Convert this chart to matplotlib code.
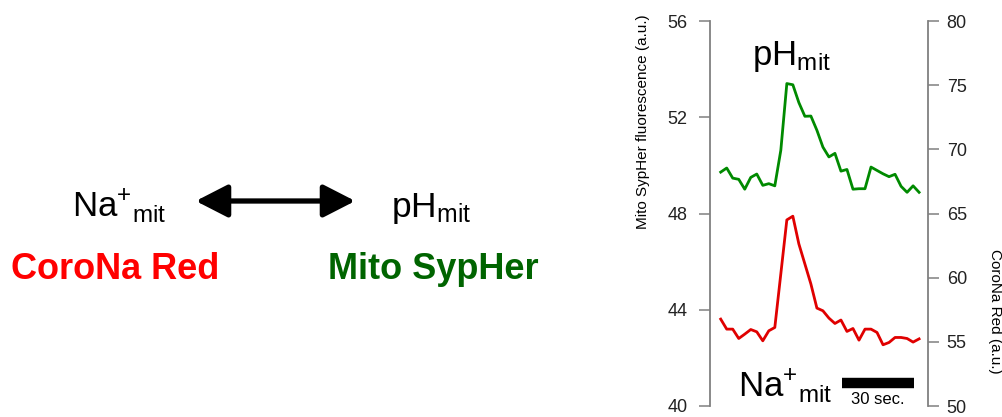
import numpy as np
import matplotlib
matplotlib.use("Agg")
import matplotlib.pyplot as plt
from matplotlib.patches import FancyArrowPatch

plt.rcParams["font.family"] = ["Liberation Sans", "DejaVu Sans"]
plt.rcParams["mathtext.fontset"] = "custom"
plt.rcParams["mathtext.rm"] = "Liberation Sans"
plt.rcParams["mathtext.it"] = "Liberation Sans:italic"
plt.rcParams["mathtext.bf"] = "Liberation Sans:bold"

# traces, one sample every 2.5 s
sample_interval_s = 2.5
mito_sypher = [49.72, 49.89, 49.47, 49.42, 49.01, 49.50, 49.64, 49.17, 49.24, 49.15,
               50.63, 53.40, 53.35, 52.61, 52.04, 52.05, 51.46, 50.76, 50.35, 50.50,
               49.76, 49.83, 49.01, 49.03, 49.03, 49.93, 49.79, 49.65, 49.53, 49.63,
               49.13, 48.88, 49.15, 48.88]
corona_red = [56.77, 55.99, 55.99, 55.26, 55.60, 55.96, 55.78, 55.08, 55.86, 56.12,
              60.30, 64.50, 64.79, 62.63, 61.07, 59.51, 57.63, 57.42, 56.85, 56.43,
              56.70, 55.81, 56.04, 55.13, 55.99, 55.99, 55.73, 54.77, 54.95, 55.34,
              55.34, 55.26, 54.98, 55.23]
time_s = np.arange(len(mito_sypher)) * sample_interval_s

left_ticks = [40, 44, 48, 52, 56]
right_ticks = [50, 55, 60, 65, 70, 75, 80]
scale_bar_start = 50.3
scale_bar_len = 30

GREEN_LINE = "#008a00"
RED_LINE = "#e00000"
SPINE = "#808080"

fig = plt.figure(figsize=(10.02, 4.17), dpi=100)

# --- scheme on the left ---
fig.text(72 / 1002, 1 - 216.7 / 417, r"$\mathregular{Na^{+}{}_{mit}}$",
         fontsize=25, ha="left", va="baseline")
fig.text(391 / 1002, 1 - 216.7 / 417, r"$\mathregular{pH_{mit}}$",
         fontsize=25.5, ha="left", va="baseline")
arrow = FancyArrowPatch((193 / 1002, 1 - 201 / 417), (358 / 1002, 1 - 201 / 417),
                        transform=fig.transFigure, arrowstyle="<|-|>,head_length=1.95,head_width=1.0",
                        mutation_scale=10, lw=3.8, color="black")
fig.patches.append(arrow)
fig.text(11 / 1002, 1 - 279 / 417, "CoroNa Red", fontsize=26, fontweight="bold",
         color="#ff0000", ha="left", va="baseline")
fig.text(328 / 1002, 1 - 279 / 417, "Mito SypHer", fontsize=26, fontweight="bold",
         color="#006400", ha="left", va="baseline")

# --- traces on the right ---
ax = fig.add_axes([710 / 1002, 1 - 406 / 417, 218 / 1002, 385 / 417])
ax2 = ax.twinx()

ax.plot(time_s, mito_sypher, color=GREEN_LINE, lw=2.0)
ax2.plot(time_s, corona_red, color=RED_LINE, lw=2.0)

ax.set_xlim(-4.45, 86.2)
ax.set_ylim(40, 56)
ax2.set_ylim(50, 80)
ax.set_yticks(left_ticks)
ax2.set_yticks(right_ticks)
ax.set_xticks([])

for a in (ax, ax2):
    for side in ("top", "bottom"):
        a.spines[side].set_visible(False)
    for side in ("left", "right"):
        a.spines[side].set_color(SPINE)
        a.spines[side].set_linewidth(1.3)
ax.spines["right"].set_visible(False)
ax2.spines["left"].set_visible(False)

ax.tick_params(axis="y", length=8, width=1.1, color=SPINE, pad=8,
               labelsize=13, labelcolor="#222222")
ax2.tick_params(axis="y", length=8, width=1.1, color=SPINE, pad=5.5,
                labelsize=13, labelcolor="#222222")

# scale bar
ax.plot([scale_bar_start, scale_bar_start + scale_bar_len], [40.97, 40.97],
        color="black", lw=7.5, solid_capstyle="butt", clip_on=False)
ax.text(scale_bar_start + scale_bar_len / 2, 40.27, "30 sec.", fontsize=12,
        ha="center", va="center")

ax.text(0.193, 0.886, r"$\mathregular{pH_{mit}}$", transform=ax.transAxes,
        fontsize=25, ha="left", va="baseline")
ax.text(0.128, 0.024, r"$\mathregular{Na^{+}{}_{mit}}$", transform=ax.transAxes,
        fontsize=25, ha="left", va="baseline", clip_on=False)

fig.text(643 / 1002, 1 - 122 / 417, "Mito SypHer fluorescence (a.u.)", rotation=90,
         fontsize=11, ha="center", va="center")
fig.text(995 / 1002, 1 - 311 / 417, "CoroNa Red (a.u.)", rotation=270,
         fontsize=11, ha="center", va="center")

fig.savefig("out.png", dpi=100)
